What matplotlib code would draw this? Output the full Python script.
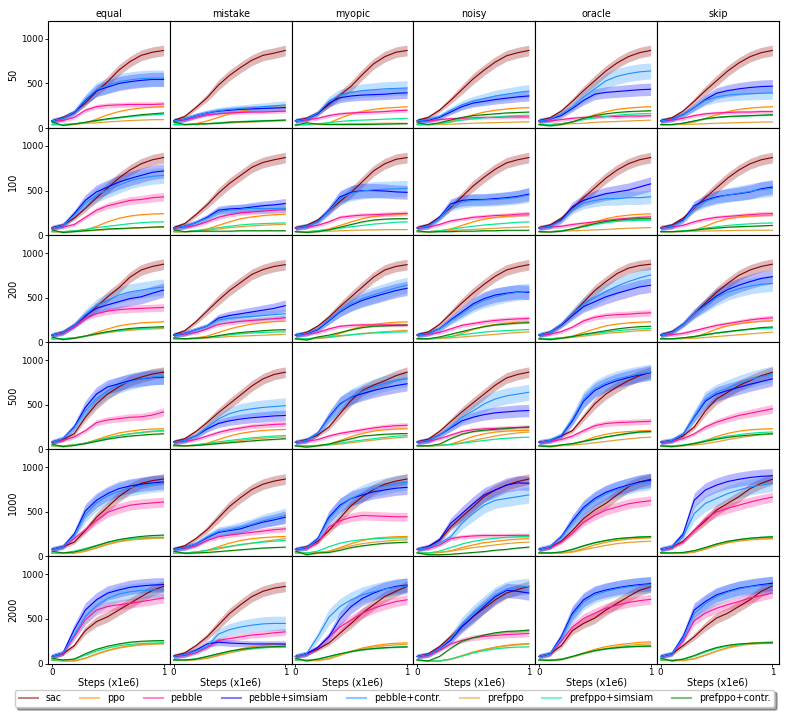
import numpy as np
import matplotlib
matplotlib.use('Agg')
import matplotlib.pyplot as plt
from matplotlib.lines import Line2D

methods = ['sac', 'ppo', 'pebble', 'pebble+simsiam', 'pebble+contr.',
           'prefppo', 'prefppo+simsiam', 'prefppo+contr.']
colors = ['#8b0000', '#ff8c00', '#ff1493', '#0000ff', '#1e90ff',
          '#e0a030', '#00e890', '#008000']
spread = [60, 15, 55, 80, 90, 15, 15, 20]  # rough std of the seeds
feedback = ['equal', 'mistake', 'myopic', 'noisy', 'oracle', 'skip']
queries = ['50', '100', '200', '500', '1000', '2000']
steps = [0.0, 0.1, 0.2, 0.3, 0.4, 0.5, 0.6, 0.7, 0.8, 0.9, 1.0]

# each panel: sac, ppo, pebble, pebble+simsiam, pebble+contr., prefppo, prefppo+simsiam, prefppo+contr.
# --- 50 queries
equal_50 = [
    [80, 120, 180, 280, 410, 520, 650, 745, 815, 850, 870],
    [40, 40, 45, 60, 100, 150, 185, 210, 225, 235, 240],
    [80, 85, 120, 200, 240, 255, 260, 265, 265, 265, 270],
    [80, 110, 170, 310, 420, 460, 500, 520, 535, 545, 545],
    [80, 110, 180, 320, 430, 480, 520, 540, 555, 560, 560],
    [40, 40, 45, 55, 60, 70, 78, 85, 90, 95, 95],
    [40, 40, 50, 65, 85, 100, 115, 130, 140, 150, 155],
    [70, 30, 45, 65, 85, 105, 120, 135, 150, 160, 170],
]
mistake_50 = [
    [85, 130, 230, 340, 480, 590, 680, 760, 815, 840, 870],
    [40, 40, 50, 80, 120, 160, 190, 210, 225, 232, 235],
    [80, 90, 120, 150, 160, 170, 175, 180, 180, 185, 190],
    [80, 100, 140, 170, 190, 200, 210, 215, 220, 225, 230],
    [80, 100, 140, 170, 195, 210, 220, 230, 240, 250, 260],
    [40, 40, 45, 50, 55, 60, 65, 70, 75, 80, 85],
    [40, 40, 45, 50, 60, 70, 75, 80, 85, 88, 90],
    [70, 40, 45, 50, 55, 65, 70, 75, 80, 85, 90],
]
myopic_50 = [
    [85, 110, 170, 260, 370, 470, 600, 720, 800, 850, 870],
    [40, 40, 45, 60, 110, 160, 190, 210, 225, 232, 240],
    [80, 90, 110, 140, 160, 170, 175, 180, 185, 195, 200],
    [80, 100, 160, 280, 340, 360, 370, 375, 380, 390, 395],
    [80, 100, 170, 300, 370, 400, 420, 430, 440, 445, 450],
    [40, 40, 42, 45, 48, 50, 52, 53, 55, 55, 55],
    [40, 40, 50, 60, 75, 85, 90, 95, 100, 105, 110],
    [30, 60, 45, 40, 40, 40, 40, 42, 45, 48, 50],
]
noisy_50 = [
    [85, 120, 200, 310, 430, 550, 650, 740, 810, 845, 870],
    [40, 40, 50, 70, 110, 150, 180, 200, 215, 225, 230],
    [70, 80, 95, 105, 110, 115, 120, 120, 125, 125, 125],
    [80, 90, 120, 180, 240, 280, 300, 320, 335, 350, 360],
    [80, 95, 130, 200, 260, 300, 330, 360, 380, 400, 415],
    [40, 40, 42, 45, 50, 55, 58, 62, 65, 68, 70],
    [40, 40, 50, 70, 90, 105, 115, 125, 135, 140, 145],
    [60, 40, 60, 90, 120, 140, 150, 160, 170, 175, 180],
]
oracle_50 = [
    [85, 115, 190, 300, 420, 530, 640, 730, 800, 845, 870],
    [40, 40, 50, 70, 110, 150, 185, 210, 225, 235, 240],
    [70, 80, 95, 110, 120, 125, 130, 130, 135, 135, 140],
    [80, 100, 140, 220, 310, 380, 400, 410, 420, 430, 435],
    [80, 100, 160, 240, 350, 440, 530, 580, 610, 630, 640],
    [40, 40, 45, 50, 55, 65, 70, 75, 80, 85, 90],
    [40, 40, 50, 70, 95, 115, 130, 145, 155, 160, 165],
    [40, 25, 40, 70, 110, 140, 160, 175, 185, 190, 195],
]
skip_50 = [
    [85, 115, 190, 300, 420, 530, 640, 730, 800, 845, 870],
    [40, 40, 50, 70, 110, 150, 185, 210, 225, 235, 240],
    [80, 90, 110, 140, 160, 170, 175, 180, 180, 185, 185],
    [80, 100, 150, 230, 320, 390, 420, 440, 455, 465, 470],
    [80, 100, 150, 230, 310, 350, 370, 380, 385, 390, 395],
    [40, 40, 42, 45, 50, 55, 58, 62, 65, 68, 70],
    [40, 40, 55, 80, 105, 120, 130, 135, 140, 143, 145],
    [40, 40, 55, 80, 105, 120, 130, 135, 140, 145, 150],
]
# --- 100 queries
equal_100 = [
    [85, 115, 190, 300, 420, 530, 640, 730, 800, 845, 870],
    [40, 40, 45, 60, 100, 150, 190, 215, 230, 238, 242],
    [80, 90, 120, 200, 280, 330, 360, 390, 400, 420, 430],
    [80, 110, 240, 390, 485, 540, 595, 635, 670, 705, 720],
    [80, 110, 220, 360, 450, 510, 560, 610, 640, 660, 670],
    [40, 40, 45, 50, 55, 65, 70, 78, 85, 90, 95],
    [40, 40, 50, 65, 85, 100, 115, 130, 140, 148, 150],
    [60, 30, 40, 50, 60, 70, 75, 80, 85, 90, 95],
]
mistake_100 = [
    [85, 130, 230, 340, 470, 580, 670, 760, 815, 845, 870],
    [40, 40, 50, 70, 110, 150, 185, 205, 220, 230, 235],
    [80, 90, 110, 150, 200, 230, 250, 260, 270, 280, 285],
    [80, 100, 140, 200, 280, 295, 300, 315, 330, 340, 355],
    [80, 100, 140, 190, 260, 280, 290, 300, 300, 300, 300],
    [40, 40, 45, 55, 70, 85, 95, 105, 112, 118, 122],
    [40, 40, 50, 65, 85, 100, 115, 125, 130, 135, 138],
    [60, 40, 45, 45, 45, 45, 50, 50, 50, 50, 50],
]
myopic_100 = [
    [85, 110, 170, 270, 380, 480, 600, 720, 800, 850, 870],
    [40, 40, 50, 70, 110, 150, 185, 210, 225, 235, 240],
    [80, 90, 110, 150, 200, 215, 225, 230, 235, 240, 245],
    [80, 100, 150, 280, 430, 480, 500, 500, 495, 485, 480],
    [80, 100, 150, 270, 410, 470, 495, 510, 515, 520, 525],
    [40, 40, 42, 45, 50, 55, 58, 60, 62, 63, 63],
    [40, 40, 50, 60, 80, 95, 110, 125, 135, 145, 150],
    [40, 30, 40, 60, 90, 120, 150, 170, 180, 185, 185],
]
noisy_100 = [
    [85, 120, 200, 310, 430, 550, 650, 740, 810, 845, 870],
    [40, 40, 50, 70, 110, 150, 180, 200, 212, 220, 225],
    [80, 90, 120, 160, 180, 200, 210, 220, 225, 235, 240],
    [80, 100, 200, 350, 390, 400, 400, 410, 420, 435, 460],
    [80, 100, 190, 330, 370, 390, 395, 400, 410, 425, 450],
    [40, 40, 45, 50, 60, 65, 72, 78, 85, 90, 95],
    [40, 40, 50, 65, 85, 100, 115, 125, 135, 145, 150],
    [50, 35, 40, 40, 45, 45, 50, 50, 55, 55, 55],
]
oracle_100 = [
    [85, 115, 190, 300, 420, 530, 640, 730, 800, 845, 870],
    [40, 40, 50, 70, 110, 150, 185, 210, 225, 235, 240],
    [80, 90, 100, 120, 135, 150, 165, 180, 190, 200, 205],
    [80, 100, 170, 320, 390, 430, 465, 485, 505, 540, 575],
    [80, 100, 160, 290, 360, 390, 410, 410, 420, 420, 430],
    [40, 40, 45, 50, 55, 60, 65, 72, 78, 82, 86],
    [40, 40, 50, 70, 95, 120, 140, 155, 162, 166, 168],
    [40, 35, 45, 70, 100, 130, 155, 170, 180, 185, 185],
]
skip_100 = [
    [85, 115, 190, 300, 420, 530, 640, 730, 800, 845, 870],
    [40, 40, 45, 60, 100, 150, 185, 205, 215, 220, 225],
    [80, 90, 110, 150, 180, 200, 210, 220, 230, 238, 242],
    [80, 100, 170, 330, 390, 430, 450, 465, 485, 520, 540],
    [80, 100, 160, 310, 380, 420, 450, 470, 490, 510, 525],
    [40, 40, 42, 45, 48, 50, 52, 54, 55, 56, 56],
    [40, 40, 50, 60, 80, 95, 110, 120, 128, 134, 138],
    [40, 40, 45, 55, 70, 80, 90, 95, 100, 105, 110],
]
# --- 200 queries
equal_200 = [
    [80, 115, 190, 290, 400, 510, 610, 730, 810, 850, 875],
    [40, 40, 50, 70, 110, 150, 185, 205, 218, 225, 230],
    [80, 100, 170, 270, 320, 350, 365, 375, 380, 385, 390],
    [80, 110, 190, 300, 380, 420, 455, 490, 510, 550, 585],
    [80, 110, 190, 310, 410, 470, 530, 565, 585, 605, 620],
    [40, 40, 50, 70, 90, 110, 125, 135, 145, 150, 155],
    [40, 40, 50, 70, 95, 115, 130, 145, 155, 160, 165],
    [60, 30, 45, 70, 95, 120, 140, 155, 165, 170, 175],
]
mistake_200 = [
    [85, 130, 230, 350, 470, 580, 670, 760, 815, 850, 870],
    [40, 40, 50, 70, 110, 150, 180, 205, 220, 232, 238],
    [80, 90, 110, 150, 200, 220, 235, 245, 255, 265, 275],
    [80, 100, 140, 180, 270, 300, 320, 340, 360, 380, 410],
    [80, 100, 140, 180, 250, 270, 280, 290, 300, 310, 320],
    [40, 40, 45, 50, 55, 65, 70, 75, 80, 85, 90],
    [40, 40, 45, 55, 70, 85, 95, 105, 110, 115, 118],
    [50, 40, 45, 55, 75, 95, 110, 120, 130, 138, 142],
]
myopic_200 = [
    [80, 110, 180, 280, 400, 510, 620, 730, 810, 850, 870],
    [40, 40, 45, 60, 100, 145, 180, 200, 215, 225, 230],
    [80, 90, 110, 150, 180, 190, 195, 195, 195, 195, 195],
    [80, 100, 140, 240, 340, 415, 470, 510, 545, 580, 605],
    [80, 100, 150, 250, 350, 430, 490, 530, 570, 610, 640],
    [40, 40, 45, 55, 70, 85, 100, 110, 120, 128, 135],
    [40, 40, 50, 60, 75, 85, 95, 105, 110, 115, 118],
    [40, 25, 60, 80, 110, 140, 165, 180, 185, 190, 192],
]
noisy_200 = [
    [85, 115, 200, 320, 440, 550, 650, 740, 810, 845, 870],
    [40, 40, 45, 60, 100, 145, 180, 200, 215, 225, 230],
    [80, 90, 110, 150, 190, 210, 230, 245, 255, 262, 267],
    [80, 100, 150, 250, 340, 430, 490, 530, 550, 565, 560],
    [80, 100, 150, 240, 320, 410, 470, 510, 540, 560, 570],
    [40, 40, 45, 50, 60, 70, 80, 90, 100, 110, 117],
    [40, 40, 50, 65, 85, 100, 115, 125, 132, 138, 143],
    [40, 40, 60, 90, 120, 150, 175, 195, 205, 215, 220],
]
oracle_200 = [
    [80, 115, 200, 320, 450, 580, 680, 770, 830, 860, 875],
    [40, 40, 50, 70, 110, 150, 185, 205, 218, 225, 230],
    [80, 90, 120, 170, 240, 280, 300, 310, 315, 325, 330],
    [80, 110, 190, 300, 400, 455, 510, 550, 585, 620, 640],
    [80, 110, 200, 320, 430, 500, 570, 630, 680, 720, 755],
    [40, 40, 45, 55, 70, 85, 100, 110, 120, 130, 135],
    [40, 40, 50, 65, 85, 100, 115, 130, 140, 150, 155],
    [40, 30, 45, 65, 90, 110, 130, 150, 165, 175, 180],
]
skip_200 = [
    [85, 120, 200, 320, 440, 560, 660, 750, 810, 850, 875],
    [40, 40, 45, 60, 100, 150, 185, 210, 225, 235, 240],
    [80, 85, 100, 130, 160, 190, 210, 230, 250, 265, 275],
    [80, 110, 200, 320, 420, 520, 590, 640, 680, 715, 735],
    [80, 110, 200, 320, 410, 500, 560, 600, 630, 650, 660],
    [40, 40, 42, 45, 55, 65, 75, 85, 95, 105, 115],
    [40, 40, 50, 65, 85, 105, 120, 135, 145, 155, 160],
    [40, 40, 50, 65, 85, 105, 120, 135, 150, 165, 172],
]
# --- 500 queries
equal_500 = [
    [80, 110, 175, 360, 510, 620, 700, 770, 810, 845, 865],
    [40, 40, 50, 70, 110, 150, 185, 205, 220, 228, 232],
    [80, 100, 140, 210, 300, 330, 345, 360, 365, 385, 420],
    [80, 120, 250, 470, 620, 700, 735, 770, 790, 805, 810],
    [80, 120, 240, 430, 570, 660, 720, 760, 790, 810, 820],
    [40, 40, 50, 70, 100, 130, 155, 175, 190, 200, 205],
    [40, 40, 50, 70, 100, 130, 155, 175, 190, 205, 212],
    [60, 30, 45, 65, 90, 115, 135, 150, 160, 170, 175],
]
mistake_500 = [
    [85, 120, 200, 300, 410, 510, 610, 710, 790, 840, 865],
    [40, 40, 50, 70, 110, 150, 180, 200, 212, 220, 224],
    [80, 90, 110, 150, 190, 220, 240, 260, 270, 280, 285],
    [80, 100, 150, 230, 290, 320, 340, 355, 365, 375, 380],
    [80, 100, 150, 250, 340, 400, 435, 455, 470, 480, 490],
    [40, 40, 45, 55, 70, 85, 100, 115, 125, 135, 140],
    [40, 40, 50, 65, 85, 100, 115, 130, 140, 150, 155],
    [50, 40, 45, 55, 65, 75, 85, 95, 105, 112, 120],
]
myopic_500 = [
    [80, 110, 160, 250, 400, 550, 660, 720, 770, 825, 865],
    [40, 40, 45, 60, 100, 145, 180, 205, 220, 228, 232],
    [80, 90, 110, 150, 180, 200, 220, 240, 255, 265, 270],
    [80, 100, 180, 360, 510, 585, 625, 660, 690, 715, 735],
    [80, 100, 180, 350, 500, 590, 650, 700, 740, 770, 790],
    [40, 40, 42, 50, 60, 75, 90, 105, 118, 130, 138],
    [40, 40, 45, 55, 70, 90, 105, 120, 135, 148, 155],
    [40, 25, 40, 60, 90, 120, 150, 160, 170, 175, 178],
]
noisy_500 = [
    [85, 115, 200, 310, 420, 520, 620, 720, 800, 840, 865],
    [40, 40, 45, 60, 100, 145, 175, 195, 205, 210, 213],
    [80, 90, 120, 160, 200, 220, 230, 235, 240, 245, 250],
    [80, 100, 160, 240, 320, 360, 390, 410, 420, 430, 435],
    [80, 100, 160, 250, 360, 430, 510, 565, 600, 620, 640],
    [40, 40, 45, 55, 75, 100, 125, 150, 170, 185, 195],
    [40, 40, 45, 55, 70, 85, 100, 115, 125, 133, 138],
    [40, 40, 60, 120, 170, 200, 215, 225, 235, 245, 250],
]
oracle_500 = [
    [80, 100, 150, 210, 360, 510, 620, 700, 770, 825, 865],
    [40, 40, 45, 60, 95, 140, 170, 190, 200, 208, 213],
    [80, 90, 110, 150, 210, 265, 290, 300, 305, 310, 315],
    [80, 100, 150, 320, 540, 660, 725, 770, 805, 835, 860],
    [80, 100, 160, 340, 560, 680, 745, 790, 820, 845, 865],
    [40, 40, 42, 50, 60, 75, 90, 105, 118, 130, 138],
    [40, 40, 50, 65, 90, 115, 140, 160, 180, 195, 200],
    [40, 30, 50, 65, 90, 115, 140, 160, 180, 195, 200],
]
skip_500 = [
    [80, 100, 150, 250, 430, 565, 640, 715, 770, 825, 865],
    [40, 40, 45, 60, 100, 145, 180, 205, 220, 228, 232],
    [80, 90, 120, 175, 250, 305, 345, 380, 405, 430, 455],
    [80, 100, 170, 360, 540, 620, 660, 695, 730, 760, 790],
    [80, 100, 170, 370, 560, 640, 690, 740, 780, 815, 845],
    [40, 40, 42, 50, 65, 85, 110, 130, 150, 165, 175],
    [40, 40, 50, 70, 100, 125, 150, 165, 180, 190, 195],
    [40, 30, 45, 65, 90, 115, 135, 150, 160, 170, 175],
]
# --- 1000 queries
equal_1000 = [
    [80, 110, 160, 290, 440, 555, 670, 760, 820, 850, 868],
    [40, 35, 40, 60, 100, 140, 170, 190, 200, 208, 212],
    [80, 110, 200, 300, 405, 495, 540, 575, 590, 600, 610],
    [80, 110, 250, 510, 630, 705, 760, 790, 810, 825, 835],
    [80, 110, 230, 470, 600, 680, 730, 770, 790, 810, 820],
    [40, 35, 40, 60, 95, 135, 165, 185, 195, 203, 208],
    [40, 40, 60, 90, 125, 160, 185, 200, 210, 215, 215],
    [60, 40, 50, 80, 120, 160, 190, 210, 225, 235, 240],
]
mistake_1000 = [
    [85, 120, 200, 300, 430, 560, 660, 750, 810, 845, 868],
    [40, 40, 50, 70, 110, 150, 180, 200, 212, 220, 225],
    [80, 90, 120, 180, 220, 240, 255, 270, 285, 300, 310],
    [80, 100, 140, 210, 270, 290, 310, 350, 385, 410, 440],
    [80, 100, 140, 220, 280, 300, 330, 360, 400, 430, 460],
    [40, 40, 50, 65, 85, 110, 130, 150, 170, 185, 200],
    [40, 40, 50, 70, 95, 115, 135, 150, 162, 172, 180],
    [60, 35, 40, 45, 55, 65, 75, 85, 95, 100, 105],
]
myopic_1000 = [
    [80, 110, 170, 290, 430, 570, 670, 750, 810, 845, 868],
    [40, 40, 45, 60, 100, 145, 180, 205, 215, 222, 225],
    [80, 90, 150, 330, 400, 440, 460, 455, 450, 445, 445],
    [80, 100, 200, 440, 575, 650, 690, 725, 745, 765, 775],
    [80, 100, 190, 420, 560, 650, 710, 760, 790, 815, 835],
    [40, 40, 45, 60, 90, 120, 145, 160, 172, 182, 188],
    [40, 40, 60, 110, 150, 175, 190, 200, 205, 208, 210],
    [60, 20, 40, 45, 70, 100, 120, 135, 148, 155, 160],
]
noisy_1000 = [
    [80, 110, 180, 330, 445, 555, 670, 745, 800, 840, 868],
    [40, 40, 45, 65, 100, 130, 155, 170, 185, 195, 200],
    [80, 90, 130, 200, 220, 230, 235, 235, 235, 237, 237],
    [80, 110, 190, 370, 480, 590, 690, 745, 800, 825, 820],
    [80, 100, 150, 220, 370, 480, 575, 630, 650, 670, 690],
    [40, 40, 45, 60, 80, 100, 115, 130, 145, 155, 162],
    [40, 40, 60, 100, 140, 170, 190, 205, 215, 222, 225],
    [40, 20, 20, 25, 35, 45, 55, 70, 80, 95, 105],
]
oracle_1000 = [
    [80, 105, 170, 290, 425, 520, 595, 690, 780, 835, 865],
    [40, 40, 40, 55, 90, 130, 160, 180, 195, 205, 210],
    [80, 100, 160, 260, 385, 460, 520, 555, 590, 610, 625],
    [80, 110, 220, 400, 550, 650, 720, 765, 800, 835, 855],
    [80, 110, 210, 380, 530, 630, 700, 750, 790, 820, 840],
    [40, 40, 40, 50, 75, 100, 125, 145, 158, 166, 172],
    [40, 40, 50, 80, 120, 155, 180, 200, 212, 220, 225],
    [40, 40, 50, 80, 120, 155, 180, 200, 210, 218, 222],
]
skip_1000 = [
    [80, 105, 170, 290, 400, 520, 595, 670, 760, 820, 865],
    [40, 35, 35, 50, 85, 125, 155, 175, 188, 196, 200],
    [80, 100, 160, 290, 420, 500, 540, 575, 610, 640, 665],
    [80, 110, 250, 630, 745, 800, 840, 865, 885, 898, 905],
    [80, 110, 220, 480, 595, 650, 705, 745, 780, 800, 820],
    [40, 35, 35, 50, 85, 125, 155, 178, 192, 202, 208],
    [40, 40, 45, 65, 100, 140, 170, 190, 205, 215, 222],
    [40, 40, 45, 65, 100, 140, 170, 190, 205, 215, 220],
]
# --- 2000 queries
equal_2000 = [
    [80, 110, 200, 370, 470, 525, 600, 675, 750, 820, 865],
    [40, 30, 30, 60, 110, 150, 180, 200, 215, 222, 226],
    [80, 110, 300, 490, 600, 640, 660, 675, 695, 715, 735],
    [80, 120, 380, 600, 715, 790, 825, 855, 870, 880, 885],
    [80, 120, 320, 530, 650, 730, 780, 805, 820, 825, 828],
    [40, 30, 30, 60, 105, 145, 175, 195, 210, 218, 222],
    [40, 40, 50, 95, 140, 175, 200, 215, 225, 230, 235],
    [60, 40, 50, 110, 160, 195, 220, 240, 250, 255, 258],
]
mistake_2000 = [
    [85, 120, 200, 300, 430, 560, 660, 750, 810, 845, 865],
    [40, 40, 45, 60, 95, 135, 165, 190, 205, 218, 226],
    [80, 90, 120, 180, 260, 280, 300, 320, 330, 345, 355],
    [80, 100, 150, 220, 240, 230, 225, 220, 220, 220, 218],
    [80, 100, 140, 190, 330, 380, 410, 430, 445, 450, 450],
    [40, 40, 45, 60, 90, 120, 145, 165, 180, 190, 195],
    [40, 40, 55, 80, 110, 135, 155, 168, 178, 184, 188],
    [40, 40, 50, 80, 110, 140, 160, 175, 185, 190, 195],
]
myopic_2000 = [
    [80, 110, 160, 230, 340, 450, 565, 660, 750, 810, 865],
    [40, 35, 35, 55, 95, 140, 175, 200, 218, 228, 233],
    [80, 100, 180, 300, 410, 490, 565, 620, 660, 695, 715],
    [80, 110, 180, 300, 505, 640, 730, 790, 835, 865, 880],
    [80, 110, 300, 520, 640, 715, 770, 805, 835, 855, 870],
    [40, 35, 35, 55, 95, 135, 165, 185, 200, 210, 215],
    [40, 40, 50, 80, 110, 135, 155, 168, 178, 184, 188],
    [60, 30, 50, 80, 110, 135, 155, 168, 178, 184, 188],
]
noisy_2000 = [
    [80, 110, 190, 300, 415, 525, 620, 715, 790, 830, 865],
    [40, 30, 30, 50, 90, 130, 160, 185, 205, 218, 226],
    [80, 90, 150, 220, 260, 290, 305, 315, 325, 330, 338],
    [80, 100, 170, 260, 410, 525, 640, 750, 820, 810, 790],
    [80, 100, 170, 280, 440, 560, 670, 770, 830, 855, 865],
    [40, 30, 30, 50, 85, 125, 155, 180, 198, 210, 218],
    [40, 30, 30, 50, 85, 120, 145, 165, 178, 185, 188],
    [40, 30, 80, 170, 250, 290, 320, 345, 360, 365, 375],
]
oracle_2000 = [
    [80, 110, 200, 370, 450, 510, 600, 675, 750, 820, 860],
    [40, 40, 50, 80, 120, 160, 190, 210, 225, 238, 244],
    [80, 110, 250, 410, 505, 565, 620, 655, 685, 705, 720],
    [80, 110, 300, 565, 715, 790, 825, 850, 870, 885, 895],
    [80, 110, 280, 540, 690, 770, 810, 840, 860, 875, 885],
    [40, 40, 50, 75, 110, 145, 170, 190, 205, 215, 222],
    [40, 40, 50, 80, 115, 145, 165, 180, 190, 196, 200],
    [40, 35, 45, 80, 115, 145, 165, 178, 188, 193, 196],
]
skip_2000 = [
    [80, 110, 200, 300, 415, 510, 565, 640, 715, 810, 870],
    [40, 35, 35, 55, 95, 140, 180, 210, 228, 238, 244],
    [80, 110, 250, 480, 565, 620, 660, 695, 735, 760, 790],
    [80, 110, 300, 600, 695, 770, 810, 845, 865, 885, 900],
    [80, 110, 280, 560, 670, 750, 800, 835, 860, 875, 885],
    [40, 35, 35, 55, 95, 140, 175, 200, 218, 228, 235],
    [40, 40, 50, 85, 130, 170, 200, 215, 225, 230, 232],
    [60, 30, 50, 90, 140, 180, 205, 220, 228, 232, 234],
]

grid = [
    [equal_50, mistake_50, myopic_50, noisy_50, oracle_50, skip_50],
    [equal_100, mistake_100, myopic_100, noisy_100, oracle_100, skip_100],
    [equal_200, mistake_200, myopic_200, noisy_200, oracle_200, skip_200],
    [equal_500, mistake_500, myopic_500, noisy_500, oracle_500, skip_500],
    [equal_1000, mistake_1000, myopic_1000, noisy_1000, oracle_1000, skip_1000],
    [equal_2000, mistake_2000, myopic_2000, noisy_2000, oracle_2000, skip_2000],
]

fig, axes = plt.subplots(6, 6, figsize=(7.89, 7.12), dpi=100, sharex=True, sharey=True)
fig.subplots_adjust(left=0.061, right=0.987, top=0.9705, bottom=0.068, wspace=0, hspace=0)

x = np.array(steps)
for i, row in enumerate(grid):
    for j, panel in enumerate(row):
        ax = axes[i, j]
        for k, vals in enumerate(panel):
            y = np.array(vals, dtype=float)
            half = spread[k] * np.clip(y / 500, 0.35, 1.0)
            ax.fill_between(x, y - half, y + half, color=colors[k], alpha=0.28, lw=0)
            ax.plot(x, y, color=colors[k], lw=0.8)
        ax.set_xlim(-0.033, 1.057)
        ax.set_ylim(0, 1200)
        ax.set_xticks([0, 1])
        ax.set_yticks([0, 500, 1000])
        ax.tick_params(labelsize=6.3, length=2.5, width=0.6, pad=1)
        if i == 0:
            ax.set_title(feedback[j], fontsize=6.9, pad=3)
        if j == 0:
            ax.set_ylabel(queries[i], fontsize=6.9, labelpad=2)
        else:
            ax.tick_params(left=False)
        if i == 5:
            ax.set_xlabel('Steps (x1e6)', fontsize=6.9, labelpad=0.5)
        else:
            ax.tick_params(bottom=False)

handles = [Line2D([], [], color=c, lw=1.5, alpha=0.5) for c in colors]
fig.legend(handles, methods, loc='lower center', ncol=8, fontsize=6.85,
           bbox_to_anchor=(0.5, 0.0), shadow=True, fancybox=True)

fig.savefig('out.png', dpi=100)
